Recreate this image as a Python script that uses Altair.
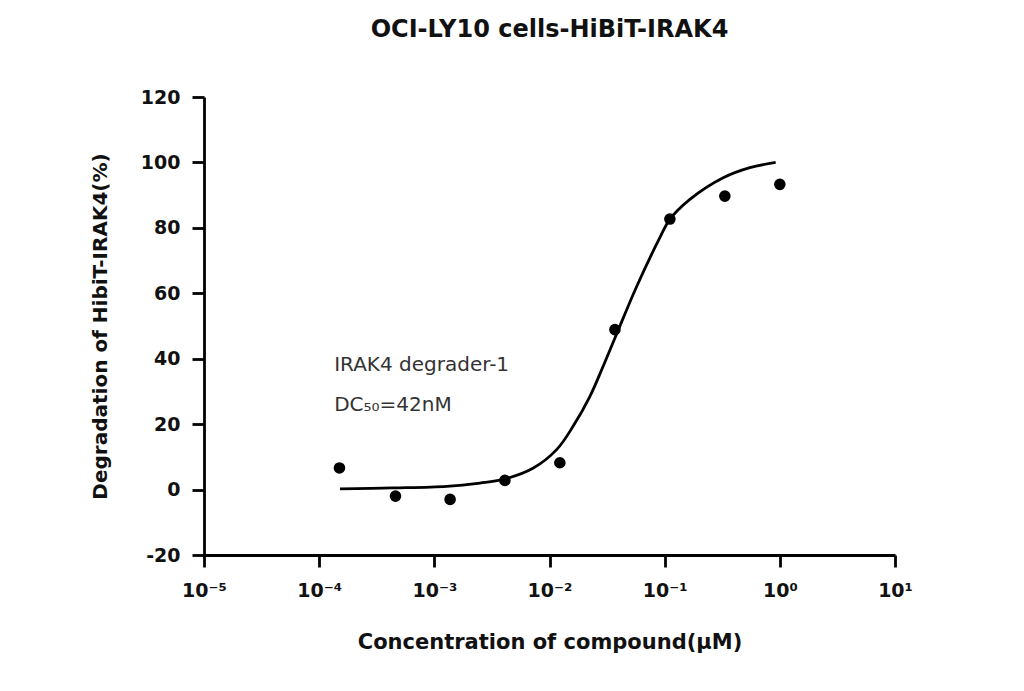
import altair as alt
import pandas as pd

# Measured points (concentration in µM, degradation %)
conc = [1.5e-4, 4.6e-4, 1.37e-3, 4.1e-3, 0.0123, 0.037, 0.111, 0.333, 1.0]
degr = [6.6, -2.0, -3.0, 2.8, 8.2, 48.9, 82.7, 89.7, 93.3]

# Fitted curve
curve_conc = [1.517e-4, 4.40e-4, 1.28e-3, 2.49e-3, 3.96e-3, 7.18e-3, 0.01153, 0.01607,
              0.02244, 0.02924, 0.03819, 0.05702, 0.09078, 0.1109, 0.1656, 0.3221,
              0.5495, 0.92]
curve_y = [0.2, 0.5, 1.0, 2.0, 3.1, 6.5, 12.2, 19.4, 28.5, 37.7, 47.5, 62.0, 77.0,
           82.6, 88.7, 95.3, 98.4, 100.0]

x_ticks = [1e-5, 1e-4, 1e-3, 1e-2, 1e-1, 1e0, 1e1]
x_tick_labels = ["10⁻⁵", "10⁻⁴", "10⁻³", "10⁻²", "10⁻¹", "10⁰", "10¹"]
y_ticks = [-20, 0, 20, 40, 60, 80, 100, 120]

ann_text = ["IRAK4 degrader-1", "DC₅₀=42nM"]
ann_x = [1.35e-4, 1.35e-4]
ann_y = [38.2, 26.0]

pts = pd.DataFrame({"conc": conc, "degr": degr})
crv = pd.DataFrame({"conc": curve_conc, "degr": curve_y})
ann = pd.DataFrame({"conc": ann_x, "degr": ann_y, "t": ann_text})

label_expr = "[" + ",".join("'%s'" % s for s in x_tick_labels) + "][round(log(datum.value)/LN10)+5]"

FONT = "DejaVu Sans"

xs = alt.X("conc:Q",
           scale=alt.Scale(type="log", domain=[1e-5, 10], nice=False),
           axis=alt.Axis(values=x_ticks, labelExpr=label_expr,
                         title="Concentration of compound(μM)",
                         grid=False, domainColor="black", domainWidth=2.8,
                         tickColor="black", tickWidth=2.8, tickSize=12,
                         labelFont=FONT, labelFontSize=19, labelColor="#111",
                         labelFontWeight="bold",
                         labelPadding=14, labelFlush=False,
                         titleFont=FONT, titleFontSize=21, titleFontWeight="bold",
                         titleColor="#111", titlePadding=31))
ys = alt.Y("degr:Q",
           scale=alt.Scale(domain=[-20, 120], nice=False, zero=False),
           axis=alt.Axis(values=y_ticks, labelExpr="toString(datum.value)",
                         title="Degradation of HibiT-IRAK4(%)",
                         grid=False, domainColor="black", domainWidth=2.8,
                         tickColor="black", tickWidth=2.8, tickSize=12,
                         labelFont=FONT, labelFontSize=19, labelColor="#111",
                         labelFontWeight="bold", labelFlush=False,
                         labelPadding=12,
                         titleFont=FONT, titleFontSize=20, titleFontWeight="bold",
                         titleColor="#111", titlePadding=30))

line = alt.Chart(crv).mark_line(color="black", strokeWidth=2.8, interpolate="catmull-rom").encode(x=xs, y=ys)
dots = alt.Chart(pts).mark_circle(color="black", opacity=1, size=135).encode(x="conc:Q", y="degr:Q")
text = alt.Chart(ann).mark_text(align="left", baseline="middle", font=FONT, fontSize=20,
                                color="#333").encode(x="conc:Q", y="degr:Q", text="t:N")

chart = alt.layer(line, dots, text).properties(
    width=691, height=458,
    title=alt.TitleParams("OCI-LY10 cells-HiBiT-IRAK4", font=FONT, fontSize=24,
                          fontWeight="bold", color="#111", anchor="middle",
                          baseline="bottom", offset=22),
    autosize=alt.AutoSizeParams(type="none"),
    padding={"left": 196, "top": 89, "right": 100, "bottom": 110},
    background="white",
).configure_view(stroke=None)

chart.save("out.html", embed_options={"renderer": "svg", "actions": False})
